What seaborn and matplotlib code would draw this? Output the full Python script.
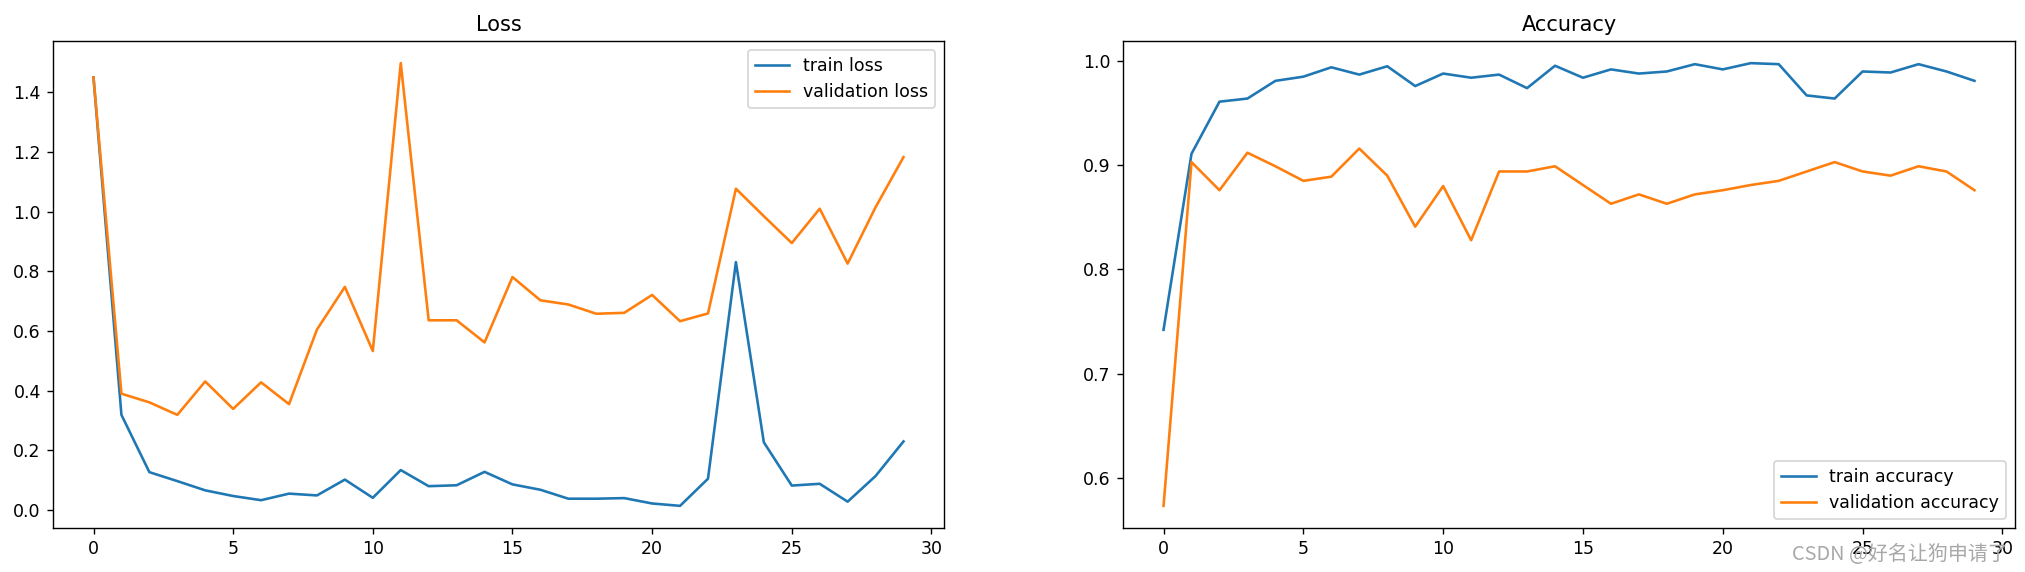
import matplotlib
matplotlib.use("Agg")
import matplotlib.pyplot as plt
import seaborn as sns
import pandas as pd

# per-epoch history
epochs = list(range(30))
train_loss = [1.450, 0.319, 0.127, 0.097, 0.066, 0.047, 0.033, 0.055, 0.049, 0.102,
              0.041, 0.134, 0.080, 0.083, 0.128, 0.086, 0.068, 0.038, 0.038, 0.040,
              0.022, 0.014, 0.105, 0.831, 0.227, 0.082, 0.088, 0.028, 0.114, 0.230]
val_loss = [1.450, 0.390, 0.361, 0.319, 0.431, 0.339, 0.428, 0.355, 0.605, 0.748,
            0.533, 1.498, 0.636, 0.636, 0.562, 0.781, 0.703, 0.689, 0.658, 0.661,
            0.721, 0.633, 0.659, 1.077, 0.985, 0.895, 1.010, 0.826, 1.015, 1.183]
train_acc = [0.742, 0.911, 0.961, 0.964, 0.981, 0.985, 0.994, 0.987, 0.995, 0.976,
             0.988, 0.984, 0.987, 0.974, 0.9955, 0.984, 0.992, 0.988, 0.990, 0.997,
             0.992, 0.998, 0.997, 0.967, 0.964, 0.990, 0.989, 0.997, 0.990, 0.981]
val_acc = [0.573, 0.903, 0.876, 0.912, 0.899, 0.885, 0.889, 0.916, 0.890, 0.841,
           0.880, 0.828, 0.894, 0.894, 0.899, 0.881, 0.863, 0.872, 0.863, 0.872,
           0.876, 0.881, 0.885, 0.894, 0.903, 0.894, 0.890, 0.899, 0.894, 0.876]

df = pd.DataFrame({
    "epoch": epochs,
    "train_loss": train_loss,
    "val_loss": val_loss,
    "train_acc": train_acc,
    "val_acc": val_acc,
})

DPI = 125
fig = plt.figure(figsize=(2026 / DPI, 572 / DPI), dpi=DPI)
ax1 = fig.add_axes([53 / 2026, 44 / 572, 891 / 2026, 487 / 572])
ax2 = fig.add_axes([1123 / 2026, 44 / 572, 892 / 2026, 487 / 572])

# loss panel
sns.lineplot(data=df, x="epoch", y="train_loss", label="train loss", color="C0", ax=ax1)
sns.lineplot(data=df, x="epoch", y="val_loss", label="validation loss", color="C1", ax=ax1)
ax1.set_title("Loss")
ax1.set_xlabel("")
ax1.set_ylabel("")
ax1.legend(loc="upper right")

# accuracy panel
sns.lineplot(data=df, x="epoch", y="train_acc", label="train accuracy", color="C0", ax=ax2)
sns.lineplot(data=df, x="epoch", y="val_acc", label="validation accuracy", color="C1", ax=ax2)
ax2.set_title("Accuracy")
ax2.set_xlabel("")
ax2.set_ylabel("")
ax2.legend(loc="lower right")

# site watermark, sits over the last x tick labels like in the original
fig.text(2008 / 2026, 1 - 554 / 572, "CSDN @好名让狗申请了", fontsize=11.5,
         color="#a8a8a8", va="center", ha="right",
         family=["Noto Sans CJK SC", "DejaVu Sans"])

fig.savefig("out.png", dpi=DPI)
